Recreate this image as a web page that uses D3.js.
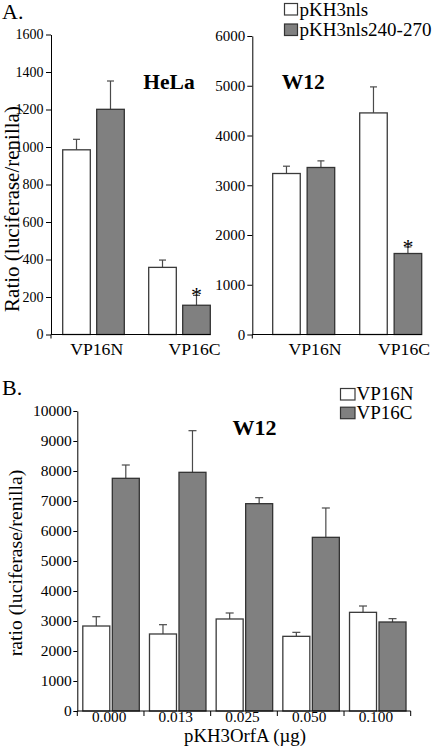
<!DOCTYPE html>
<html><head><meta charset="utf-8">
<script src="https://cdn.jsdelivr.net/npm/d3@7"></script>
<style>
body{margin:0;background:#fff}
svg{display:block}
text{font-family:"Liberation Serif","Times New Roman",Times,serif;fill:#000}
</style>
</head><body>
<svg id="c" width="432" height="746"></svg>
<script>
// ---------- DATA ----------
const catsA = ["VP16N", "VP16C"];
const seriesA = ["pKH3nls", "pKH3nls240-270"];
const helaTicks = [0, 200, 400, 600, 800, 1000, 1200, 1400, 1600];
const helaWhite = [985, 358];
const helaWhiteSd = [56, 39];
const helaGray = [1201, 156];
const helaGraySd = [151, 53];
const helaSig = ["", "*"];

const w12Ticks = [0, 1000, 2000, 3000, 4000, 5000, 6000];
const w12White = [3236, 4454];
const w12WhiteSd = [147, 523];
const w12Gray = [3357, 1628];
const w12GraySd = [133, 133];
const w12Sig = ["", "*"];

const doses = ["0.000", "0.013", "0.025", "0.050", "0.100"];
const seriesB = ["VP16N", "VP16C"];
const bTicks = [0, 1000, 2000, 3000, 4000, 5000, 6000, 7000, 8000, 9000, 10000];
const vp16n = [2833, 2567, 3067, 2489, 3289];
const vp16nSd = [310, 310, 200, 133, 211];
const vp16c = [7756, 7956, 6911, 5789, 2967];
const vp16cSd = [444, 1388, 200, 978, 111];

// ---------- STYLE ----------
const FILL = ["#ffffff", "#808080"];
const STROKE = ["#3a3a3a", "#333333"];
const ERR = "#4a4a4a";
const FAM = '"Liberation Serif","Times New Roman",Times,serif';
const fmt = d3.format("d");

const svg = d3.select("#c");

function styleAxis(g, fs) {
  g.attr("font-family", null).attr("font-size", null);
  g.selectAll("path").attr("stroke", "#000").attr("stroke-width", 1);
  g.selectAll("line").attr("stroke", "#000").attr("stroke-width", 1);
  g.selectAll("text").style("font-size", fs + "px").style("font-family", FAM).attr("fill", "#000");
}

function drawGroups(g, cats, series, vals, sds, sig, x0, x1, y, capW) {
  cats.forEach((c, i) => {
    series.forEach((s, j) => {
      const v = vals[j][i], sd = sds[j][i];
      const bx = x0(c) + x1(s), bw = x1.bandwidth();
      const cx = bx + bw / 2;
      g.append("line").attr("x1", cx).attr("x2", cx)
        .attr("y1", y(v)).attr("y2", y(v + sd))
        .attr("stroke", ERR).attr("stroke-width", 1.2);
      g.append("line").attr("x1", cx - capW / 2).attr("x2", cx + capW / 2)
        .attr("y1", y(v + sd)).attr("y2", y(v + sd))
        .attr("stroke", ERR).attr("stroke-width", 1.2);
      g.append("rect").attr("x", bx).attr("y", y(v))
        .attr("width", bw).attr("height", y(0) - y(v))
        .attr("fill", FILL[j]).attr("stroke", STROKE[j]).attr("stroke-width", 1.3);
      if (sig && sig[j] && sig[j][i]) {
        g.append("text").attr("x", cx).attr("y", y(v + sd) + 7)
          .attr("text-anchor", "middle").style("font-size", "22px")
          .text(sig[j][i]);
      }
    });
  });
}

// ---------- PANEL A: HeLa ----------
{
  const y = d3.scaleLinear().domain([0, 1600]).range([334.5, 34.5]);
  const x0 = d3.scaleBand().domain(catsA).range([62.7, 234.7]);
  const x1 = d3.scaleBand().domain(seriesA).range([0, 61.6]).paddingInner(0.188);
  const lbl = d3.scalePoint().domain(catsA).range([96.7, 194.5]);
  const g = svg.append("g");
  const axX = 51;
  drawGroups(g, catsA, seriesA, [helaWhite, helaGray], [helaWhiteSd, helaGraySd],
    [null, helaSig], x0, x1, y, 7);
  const endX = x0(catsA[catsA.length - 1]) + x1(seriesA[1]) + x1.bandwidth();
  g.append("line").attr("x1", axX).attr("x2", endX).attr("y1", y(0)).attr("y2", y(0))
    .attr("stroke", "#000");
  g.append("line").attr("x1", axX).attr("x2", axX).attr("y1", y(0)).attr("y2", y(0) + 4)
    .attr("stroke", "#000");
  const ay = g.append("g").attr("transform", `translate(${axX},0)`)
    .call(d3.axisLeft(y).tickValues(helaTicks).tickFormat(fmt).tickSize(5).tickSizeOuter(0).tickPadding(2.5));
  styleAxis(ay, 14);
  catsA.forEach(c => g.append("text").attr("x", lbl(c)).attr("y", 355)
    .attr("text-anchor", "middle").style("font-size", "17.7px").text(c));
  g.append("text").attr("x", 169).attr("y", 89).attr("text-anchor", "middle")
    .style("font-size", "21.5px").style("font-weight", "bold").text("HeLa");
  g.append("text").attr("transform", `translate(19,${(96 + 322) / 2}) rotate(-90)`)
    .attr("text-anchor", "middle").style("font-size", "21px")
    .text("Ratio (luciferase/renilla)");
  svg.append("text").attr("x", 2).attr("y", 18.5).style("font-size", "22px").text("A.");
}

// ---------- PANEL A: W12 ----------
{
  const y = d3.scaleLinear().domain([0, 6000]).range([334.5, 36]);
  const x0 = d3.scaleBand().domain(catsA).range([272.7, 446.7]);
  const x1 = d3.scaleBand().domain(seriesA).range([0, 62]).paddingInner(0.2);
  const lbl = d3.scalePoint().domain(catsA).range([315, 404]);
  const g = svg.append("g");
  const axX = 252.3;
  drawGroups(g, catsA, seriesA, [w12White, w12Gray], [w12WhiteSd, w12GraySd],
    [null, w12Sig], x0, x1, y, 7);
  const endX = x0(catsA[catsA.length - 1]) + x1(seriesA[1]) + x1.bandwidth();
  g.append("line").attr("x1", axX).attr("x2", endX).attr("y1", y(0)).attr("y2", y(0))
    .attr("stroke", "#000");
  g.append("line").attr("x1", axX).attr("x2", axX).attr("y1", y(0)).attr("y2", y(0) + 4)
    .attr("stroke", "#000");
  const ay = g.append("g").attr("transform", `translate(${axX},0)`)
    .call(d3.axisLeft(y).tickValues(w12Ticks).tickFormat(fmt).tickSize(5).tickSizeOuter(0).tickPadding(2));
  styleAxis(ay, 15);
  catsA.forEach(c => g.append("text").attr("x", lbl(c)).attr("y", 355)
    .attr("text-anchor", "middle").style("font-size", "17.7px").text(c));
  g.append("text").attr("x", 303.3).attr("y", 89).attr("text-anchor", "middle")
    .style("font-size", "21.5px").style("font-weight", "bold").text("W12");
  // legend
  const lg = svg.append("g");
  seriesA.forEach((s, j) => {
    lg.append("rect").attr("x", 284.5).attr("y", 3.5 + j * 20.5).attr("width", 13).attr("height", 11.5)
      .attr("fill", FILL[j]).attr("stroke", STROKE[j]).attr("stroke-width", 1.2);
    lg.append("text").attr("x", 299.5).attr("y", 15.5 + j * 20).style("font-size", "19px").text(s);
  });
}

// ---------- PANEL B ----------
{
  const y = d3.scaleLinear().domain([0, 10000]).range([711, 411]);
  const x0 = d3.scaleBand().domain(doses).range([77.3, 410.7]);
  const x1 = d3.scaleBand().domain(seriesB).range([5.5, 62]).paddingInner(0.085);
  const g = svg.append("g");
  drawGroups(g, doses, seriesB, [vp16n, vp16c], [vp16nSd, vp16cSd], null, x0, x1, y, 8);
  // x axis with ticks at band boundaries
  const [r0, r1] = x0.range();
  g.append("line").attr("x1", r0).attr("x2", r1).attr("y1", y(0)).attr("y2", y(0)).attr("stroke", "#000");
  const bounds = doses.map(d => x0(d)).concat([r1]);
  bounds.forEach(bx => g.append("line").attr("x1", bx).attr("x2", bx)
    .attr("y1", y(0)).attr("y2", y(0) + 5).attr("stroke", "#000"));
  doses.forEach(d => g.append("text").attr("x", x0(d) + x0.bandwidth() / 2 - 1.5).attr("y", 722)
    .attr("text-anchor", "middle").style("font-size", "15.3px").text(d));
  const ay = g.append("g").attr("transform", `translate(${r0},0)`)
    .call(d3.axisLeft(y).tickValues(bTicks).tickFormat(fmt).tickSize(4).tickSizeOuter(0).tickPadding(1.5));
  styleAxis(ay, 15.5);
  g.append("text").attr("x", 245).attr("y", 742).attr("text-anchor", "middle")
    .style("font-size", "18.8px").text("pKH3OrfA (\u00b5g)");
  g.append("text").attr("transform", `translate(22,563) rotate(-90)`)
    .attr("text-anchor", "middle").style("font-size", "19.7px")
    .text("ratio (luciferase/renilla)");
  g.append("text").attr("x", 254.5).attr("y", 435).attr("text-anchor", "middle")
    .style("font-size", "22px").style("font-weight", "bold").text("W12");
  svg.append("text").attr("x", 2).attr("y", 395).style("font-size", "22px").text("B.");
  // legend
  seriesB.forEach((s, j) => {
    g.append("rect").attr("x", 340.5).attr("y", 388.5 + j * 18.7).attr("width", 14.5).attr("height", 11.5)
      .attr("fill", FILL[j]).attr("stroke", STROKE[j]).attr("stroke-width", 1.2);
    g.append("text").attr("x", 356.5).attr("y", 400 + j * 19.3).style("font-size", "19px").text(s);
  });
}
</script>
</body></html>
